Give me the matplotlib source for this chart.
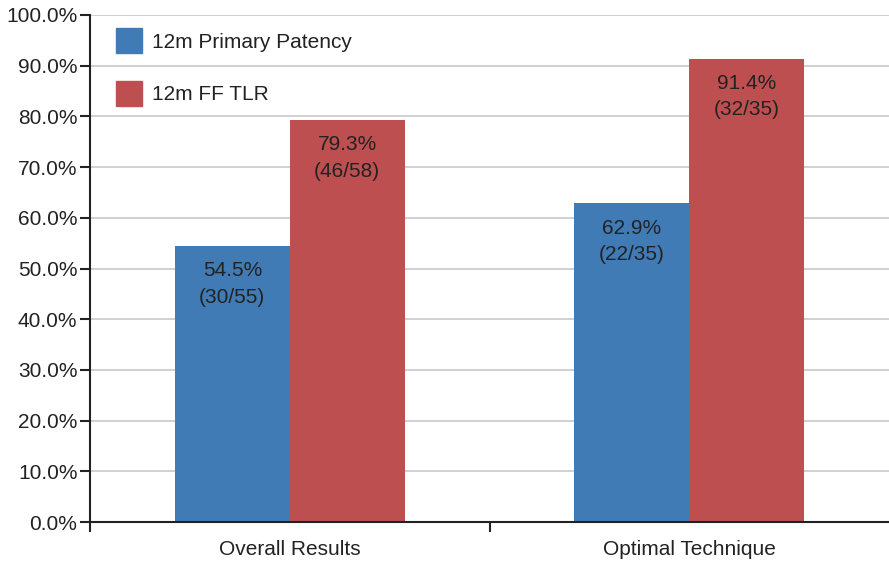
import matplotlib
matplotlib.use("Agg")
import matplotlib.pyplot as plt
from matplotlib.patches import Patch
from matplotlib.ticker import FuncFormatter, MultipleLocator

plt.rcParams["font.family"] = ["Liberation Sans", "DejaVu Sans"]

CATEGORIES = ["Overall Results", "Optimal Technique"]
SERIES = ["12m Primary Patency", "12m FF TLR"]
PATENCY = [54.5, 62.9]
FF_TLR = [79.3, 91.4]
PATENCY_COUNTS = ["(30/55)", "(22/35)"]
FF_TLR_COUNTS = ["(46/58)", "(32/35)"]

BLUE = "#417BB5"
RED = "#BD4F51"
TEXT = "#222222"


def main() -> None:
    fig = plt.figure(figsize=(8.89, 5.61), dpi=100)
    ax = fig.add_axes([90 / 889, 39 / 561, 799 / 889, 507 / 561])

    centers = [i + 0.5 for i in range(len(CATEGORIES))]
    w = 0.2875
    groups = [
        ([c - w / 2 for c in centers], PATENCY, PATENCY_COUNTS, BLUE),
        ([c + w / 2 for c in centers], FF_TLR, FF_TLR_COUNTS, RED),
    ]
    for xs, vals, counts, color in groups:
        ax.bar(xs, vals, width=w, color=color, zorder=2)
        for x, v, n in zip(xs, vals, counts):
            ax.annotate(f"{v:.1f}%", (x, v), xytext=(0, -18), textcoords="offset points",
                        ha="center", va="center", fontsize=15, color=TEXT, zorder=3)
            ax.annotate(n, (x, v), xytext=(0, -37), textcoords="offset points",
                        ha="center", va="center", fontsize=15, color=TEXT, zorder=3)

    ax.set_xlim(0, len(CATEGORIES))
    ax.set_ylim(0, 100)
    ax.yaxis.set_major_locator(MultipleLocator(10))
    ax.yaxis.set_major_formatter(FuncFormatter(lambda v, _: f"{v:.1f}%"))
    ax.set_xticks(centers, CATEGORIES)
    ax.set_xticks(range(len(CATEGORIES)), minor=True)
    ax.tick_params(axis="x", which="major", length=0, pad=13, labelsize=15, labelcolor=TEXT)
    ax.tick_params(axis="x", which="minor", length=7, width=1.5, color=TEXT, direction="out")
    ax.tick_params(axis="y", length=7, width=1.5, color=TEXT, pad=2, labelsize=15, labelcolor=TEXT)

    ax.grid(axis="y", color="#c8c8c8", linewidth=1.2, zorder=0)
    ax.set_axisbelow(True)
    for side in ["top", "right"]:
        ax.spines[side].set_visible(False)
    for side in ["left", "bottom"]:
        ax.spines[side].set_color(TEXT)
        ax.spines[side].set_linewidth(1.5)
        ax.spines[side].set_zorder(4)

    handles = [Patch(color=BLUE), Patch(color=RED)]
    ax.legend(handles, SERIES, loc="upper left", bbox_to_anchor=(26 / 799, 1 - 13 / 507),
              frameon=False, fontsize=15, borderpad=0, borderaxespad=0,
              handlelength=1.25, handleheight=1.5, handletextpad=0.5,
              labelspacing=1.3, labelcolor=TEXT)

    fig.savefig("out.png", dpi=100)


if __name__ == "__main__":
    main()
